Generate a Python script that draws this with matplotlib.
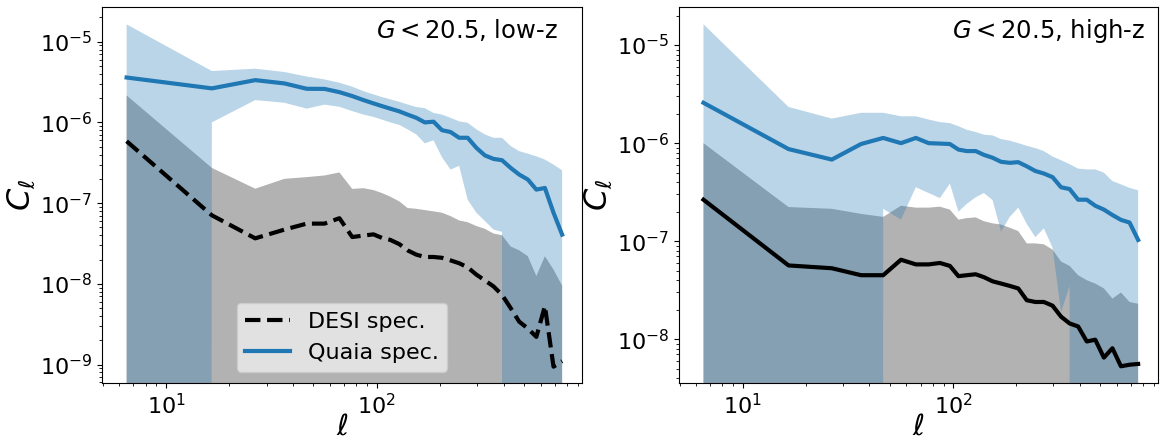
import numpy as np
import matplotlib
matplotlib.use("Agg")
import matplotlib.pyplot as plt

ell = [6.5, 16.5, 26.5, 36.5, 46.5, 56.5, 66.5, 76.5, 86.5, 96.5, 106, 116, 128, 140,
       154, 169, 186, 204, 224, 246, 270, 297, 326, 358, 393, 432, 474, 521, 572, 628,
       690, 758]

# ---- low-z panel ----
lo_quaia = [3.6e-6, 2.64e-6, 3.34e-6, 3.04e-6, 2.61e-6, 2.6e-6, 2.37e-6, 2.12e-6, 1.89e-6,
            1.72e-6, 1.59e-6, 1.48e-6, 1.37e-6, 1.25e-6, 1.14e-6, 1.0e-6, 1.02e-6, 8.0e-7,
            7.6e-7, 6.45e-7, 6.45e-7, 4.84e-7, 3.9e-7, 3.53e-7, 3.4e-7, 2.73e-7, 2.26e-7,
            1.96e-7, 1.47e-7, 1.54e-7, 7.6e-8, 4.07e-8]
lo_quaia_up = [1.64e-5, 4.33e-6, 4.63e-6, 4.21e-6, 3.7e-6, 3.41e-6, 3.1e-6, 2.77e-6, 2.44e-6,
               2.22e-6, 2.06e-6, 1.93e-6, 1.8e-6, 1.67e-6, 1.55e-6, 1.5e-6, 1.31e-6, 1.25e-6,
               1.14e-6, 1.03e-6, 9.9e-7, 8.2e-7, 7.1e-7, 6.45e-7, 6.45e-7, 5.1e-7, 4.4e-7,
               4.1e-7, 3.8e-7, 3.46e-7, 3.0e-7, 2.55e-7]
lo_quaia_lo = [0.0, 1.0e-6, 1.89e-6, 1.75e-6, 1.48e-6, 1.66e-6, 1.56e-6, 1.38e-6, 1.25e-6,
               1.17e-6, 1.08e-6, 1.0e-6, 9.3e-7, 8.2e-7, 7.1e-7, 5.5e-7, 6.0e-7, 3.7e-7,
               2.6e-7, 2.9e-7, 1.1e-7, 7.6e-8, 6.0e-8, 4.7e-8, 4.4e-8, 0.0, 0.0,
               0.0, 0.0, 0.0, 0.0, 0.0]
lo_desi = [5.85e-7, 7.06e-8, 3.66e-8, 4.7e-8, 5.57e-8, 5.57e-8, 6.5e-8, 3.8e-8, 3.96e-8,
           4.1e-8, 3.7e-8, 3.5e-8, 3.1e-8, 2.6e-8, 2.3e-8, 2.15e-8, 2.15e-8, 2.1e-8,
           1.95e-8, 1.8e-8, 1.6e-8, 1.3e-8, 1.1e-8, 9.3e-9, 7.3e-9, 5.0e-9, 3.4e-9,
           2.8e-9, 2.2e-9, 5.3e-9, 9.4e-10, 1.1e-9]
lo_desi_up = [2.16e-6, 2.73e-7, 1.51e-7, 2.0e-7, 2.1e-7, 2.2e-7, 2.4e-7, 1.5e-7, 1.53e-7,
              1.45e-7, 1.33e-7, 1.2e-7, 1.05e-7, 8.7e-8, 8.5e-8, 8.2e-8, 7.9e-8, 7.6e-8,
              6.9e-8, 6.1e-8, 5.8e-8, 5.2e-8, 4.8e-8, 4.2e-8, 4.0e-8, 2.9e-8, 2.6e-8,
              2.2e-8, 1.25e-8, 2.2e-8, 1.5e-8, 9.5e-9]
lo_desi_lo = [0.0] * 32

# ---- high-z panel ----
hi_quaia = [2.58e-6, 8.7e-7, 6.8e-7, 9.8e-7, 1.13e-6, 1.0e-6, 1.13e-6, 1.0e-6, 9.9e-7,
            9.8e-7, 8.6e-7, 8.3e-7, 8.3e-7, 7.6e-7, 7.1e-7, 6.45e-7, 6.3e-7, 6.4e-7,
            5.8e-7, 5.2e-7, 4.9e-7, 4.5e-7, 3.55e-7, 3.4e-7, 2.65e-7, 2.65e-7, 2.3e-7,
            2.1e-7, 1.85e-7, 1.65e-7, 1.55e-7, 1.03e-7]
hi_quaia_up = [1.63e-5, 2.34e-6, 1.78e-6, 2.04e-6, 2.04e-6, 1.88e-6, 1.88e-6, 1.74e-6, 1.64e-6,
               1.6e-6, 1.49e-6, 1.37e-6, 1.3e-6, 1.22e-6, 1.2e-6, 1.1e-6, 1.06e-6, 1.0e-6,
               9.4e-7, 8.9e-7, 8.3e-7, 7.3e-7, 6.7e-7, 6.1e-7, 5.5e-7, 5.4e-7, 5.4e-7,
               5.0e-7, 4.1e-7, 3.8e-7, 3.5e-7, 3.3e-7]
hi_quaia_lo = [0.0, 0.0, 0.0, 0.0, 2.14e-7, 1.66e-7, 3.55e-7, 3.1e-7, 2.75e-7,
               3.86e-7, 2.0e-7, 2.4e-7, 2.8e-7, 3.1e-7, 2.63e-7, 1.25e-7, 1.77e-7, 2.2e-7,
               1.5e-7, 1.1e-7, 1.35e-7, 8.6e-8, 1.9e-8, 3.5e-8, 0.0, 0.0, 0.0,
               0.0, 0.0, 0.0, 0.0, 0.0]
hi_desi = [2.65e-7, 5.66e-8, 5.3e-8, 4.5e-8, 4.5e-8, 6.47e-8, 5.8e-8, 5.8e-8, 6.0e-8,
           5.6e-8, 4.4e-8, 4.5e-8, 4.6e-8, 4.3e-8, 3.9e-8, 3.7e-8, 3.5e-8, 3.3e-8,
           2.5e-8, 2.4e-8, 2.4e-8, 2.2e-8, 1.7e-8, 1.45e-8, 1.35e-8, 9.5e-9, 9.9e-9,
           6.5e-9, 8.1e-9, 5.3e-9, 5.5e-9, 5.6e-9]
hi_desi_up = [1.0e-6, 2.23e-7, 2.14e-7, 1.9e-7, 1.77e-7, 2.3e-7, 2.2e-7, 2.2e-7, 2.25e-7,
              2.1e-7, 1.66e-7, 1.72e-7, 1.75e-7, 1.6e-7, 1.52e-7, 1.48e-7, 1.37e-7, 1.27e-7,
              9.5e-8, 9.5e-8, 9.3e-8, 8.2e-8, 6.2e-8, 5.6e-8, 4.5e-8, 4.0e-8, 3.7e-8,
              3.3e-8, 2.6e-8, 3.0e-8, 2.4e-8, 2.3e-8]
hi_desi_lo = [0.0] * 32

panel_titles = [r"$G<20.5$, low-z", r"$G<20.5$, high-z"]
legend_labels = ["DESI spec.", "Quaia spec."]

fig = plt.figure(figsize=(11.61, 4.41), dpi=100)
ax1 = fig.add_axes([0.0879, 0.1315, 0.4134, 0.852])
ax2 = fig.add_axes([0.5848, 0.1315, 0.4126, 0.852])

panels = [
    (ax1, lo_quaia, lo_quaia_lo, lo_quaia_up, lo_desi, lo_desi_lo, lo_desi_up, "--", (5.9e-10, 2.67e-5)),
    (ax2, hi_quaia, hi_quaia_lo, hi_quaia_up, hi_desi, hi_desi_lo, hi_desi_up, "-", (3.58e-9, 2.43e-5)),
]

for i, (ax, q, qlo, qup, d, dlo, dup, ls, ylim) in enumerate(panels):
    ax.set_xscale("log")
    ax.set_yscale("log")
    ax.fill_between(ell, dlo, dup, color="k", alpha=0.3, linewidth=0)
    ax.fill_between(ell, qlo, qup, color="C0", alpha=0.3, linewidth=0)
    ax.plot(ell, d, color="k", ls=ls, lw=3, label=legend_labels[0])
    ax.plot(ell, q, color="C0", ls="-", lw=3, label=legend_labels[1])
    ax.set_xlim(4.97, 942)
    ax.set_ylim(*ylim)
    ax.tick_params(labelsize=16)
    ax.set_xlabel(r"$\ell$", fontsize=21, labelpad=-4)
    ax.set_ylabel(r"$C_\ell$", fontsize=23, labelpad=2)
    ax.text(0.57, 0.975, panel_titles[i], transform=ax.transAxes, ha="left", va="top",
            fontsize=17.5)

ax1.legend(loc="lower center", fontsize=16, facecolor="#eeeeee", framealpha=0.8)

fig.savefig("out.png", dpi=100)
